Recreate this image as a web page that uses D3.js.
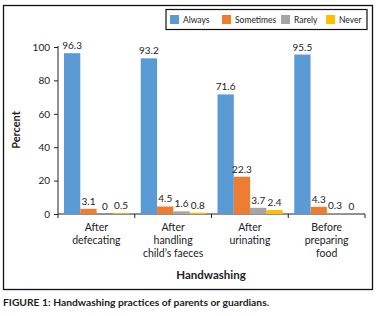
<!DOCTYPE html>
<html>
<head>
<meta charset="utf-8">
<script src="https://cdn.jsdelivr.net/npm/d3@7"></script>
<style>
  body { margin: 0; background: #fff; }
  text { font-family: Lato, "Open Sans", sans-serif; fill: #222; }
</style>
</head>
<body>
<script>
let w = 378;
let h = 316;

let categories = [["After", "defecating"], ["After", "handling", "child\u2019s faeces"], ["After", "urinating"], ["Before", "preparing", "food"]];
let seriesNames = ["Always", "Sometimes", "Rarely", "Never"];
let colors = ["#5b9bd5", "#ed7d31", "#a5a5a5", "#ffc000"];
let always = [96.3, 93.2, 71.6, 95.5];
let sometimes = [3.1, 4.5, 22.3, 4.3];
let rarely = [0, 1.6, 3.7, 0.3];
let never = [0.5, 0.8, 2.4, 0];
let yTicks = [0, 20, 40, 60, 80, 100];

let series = [always, sometimes, rarely, never];
let dataset = categories.map((c, i) => ({
  idx: i,
  values: series.map((s, j) => ({ key: seriesNames[j], v: s[i], color: colors[j] }))
}));

let svg = d3.select("body").append("svg")
  .attr("width", w)
  .attr("height", h);

// frame
svg.append("rect")
  .attr("x", 3.5).attr("y", 5.5)
  .attr("width", 369).attr("height", 284)
  .attr("fill", "none")
  .attr("stroke", "#111")
  .attr("stroke-width", 1.3);

let xScale = d3.scaleBand()
  .domain(d3.range(categories.length))
  .range([58, 365]);

let xInner = d3.scaleBand()
  .domain(seriesNames)
  .range([6, xScale.bandwidth() - 5.5]);

let yScale = d3.scaleLinear()
  .domain([0, 100])
  .range([214, 47]);

// y axis
let yAxis = d3.axisLeft(yScale).tickValues(yTicks).tickSize(4).tickPadding(4);
let gy = svg.append("g")
  .attr("transform", "translate(58,0)")
  .call(yAxis);
gy.selectAll("text").style("font-size", "10px").attr("fill", "#222");
gy.selectAll("line,path").attr("stroke", "#222");
gy.select(".domain").attr("d", "M0," + yScale(0) + "V" + (yScale(100) - 1));

// x axis
let gx = svg.append("g")
  .attr("transform", "translate(0," + yScale(0) + ")");
gx.append("line")
  .attr("x1", 58).attr("x2", 365)
  .attr("stroke", "#222");
gx.selectAll("line.tick")
  .data(d3.range(categories.length + 1))
  .enter().append("line")
  .attr("class", "tick")
  .attr("x1", (d) => d < categories.length ? xScale(d) : xScale(d - 1) + xScale.bandwidth())
  .attr("x2", (d) => d < categories.length ? xScale(d) : xScale(d - 1) + xScale.bandwidth())
  .attr("y1", 0).attr("y2", 4)
  .attr("stroke", "#222");

// category labels
let catLabels = svg.append("g").selectAll("text")
  .data(categories)
  .enter().append("text")
  .attr("text-anchor", "middle")
  .style("font-size", "10.5px")
  .attr("x", (d, i) => xScale(i) + xScale.bandwidth() / 2)
  .attr("y", 231);
catLabels.selectAll("tspan")
  .data((d) => d)
  .enter().append("tspan")
  .attr("x", function() { return d3.select(this.parentNode).attr("x"); })
  .attr("dy", (d, i) => i === 0 ? 0 : 13)
  .text((d) => d);

// bars
let groups = svg.append("g").selectAll("g")
  .data(dataset)
  .enter().append("g")
  .attr("transform", (d) => "translate(" + xScale(d.idx) + ",0)");

groups.selectAll("rect")
  .data((d) => d.values)
  .enter().append("rect")
  .attr("x", (d) => xInner(d.key))
  .attr("width", xInner.bandwidth())
  .attr("y", (d) => yScale(d.v))
  .attr("height", (d) => yScale(0) - yScale(d.v))
  .attr("fill", (d) => d.color);

groups.selectAll("text")
  .data((d) => d.values)
  .enter().append("text")
  .attr("text-anchor", "middle")
  .style("font-size", "10px")
  .attr("x", (d) => xInner(d.key) + xInner.bandwidth() / 2)
  .attr("y", (d) => yScale(d.v) - 4)
  .text((d) => d.v);

// axis titles
svg.append("text")
  .attr("transform", "translate(20,130) rotate(-90)")
  .attr("text-anchor", "middle")
  .style("font-size", "11px")
  .style("font-weight", "bold")
  .text("Percent");

svg.append("text")
  .attr("x", 211).attr("y", 279)
  .attr("text-anchor", "middle")
  .style("font-size", "11.5px")
  .style("font-weight", "bold")
  .text("Handwashing");

// legend
svg.append("rect")
  .attr("x", 166).attr("y", 9.5)
  .attr("width", 201).attr("height", 20)
  .attr("fill", "#fff")
  .attr("stroke", "#111")
  .attr("stroke-width", 1.2);

let legendX = [170, 222, 281, 326];
let legend = svg.append("g").selectAll("g")
  .data(seriesNames)
  .enter().append("g")
  .attr("transform", (d, i) => "translate(" + legendX[i] + ",15)");
legend.append("rect")
  .attr("width", 9).attr("height", 9)
  .attr("fill", (d, i) => colors[i]);
legend.append("text")
  .attr("x", 13).attr("y", 8)
  .style("font-size", "8.5px")
  .text((d) => d);

// caption
svg.append("text")
  .attr("x", 3).attr("y", 306)
  .style("font-size", "10.3px")
  .style("font-weight", "bold")
  .attr("fill", "#111")
  .text("FIGURE 1: Handwashing practices of parents or guardians.");
</script>
</body>
</html>
